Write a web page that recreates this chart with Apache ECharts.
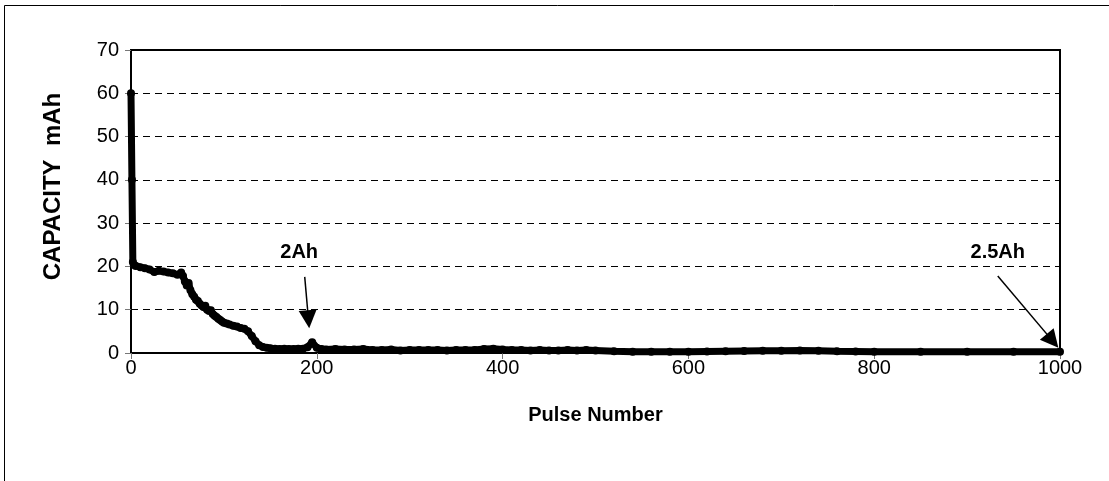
<!DOCTYPE html>
<html>
<head>
<meta charset="utf-8">
<script src="https://cdn.jsdelivr.net/npm/echarts@6/dist/echarts.min.js"></script>
<style>
html,body{margin:0;padding:0;background:#fff;}
#chart{width:1109px;height:481px;}
</style>
</head>
<body>
<div id="chart"></div>
<script>
// ---- data ----
const pulseNumber = [0,1,2,3,5,10,15,20,25,30,35,40,45,50,54,56,58,60,62,64,66,68,70,72,74,76,78,80,82,84,86,88,90,92,94,96,98,100,103,106,110,114,118,122,126,130,134,138,142,146,150,155,160,165,170,175,180,185,190,195,200,205,210,220,230,240,250,260,270,280,290,300,310,320,330,340,350,360,370,380,390,400,410,420,430,440,450,460,470,480,490,500,520,540,560,580,600,620,640,660,680,700,720,740,760,780,800,850,900,950,1000];
const capacity = [60,40,21,20.4,20.1,19.8,19.6,19.3,18.7,19.0,18.8,18.6,18.4,18.1,18.6,17.8,16.5,15.6,16.2,14.5,13.6,13.0,12.3,12.0,11.4,11.0,10.6,10.9,10.0,9.7,9.9,9.0,8.6,8.3,7.9,7.6,7.3,7.0,6.8,6.6,6.3,6.1,5.8,5.6,5.0,3.9,2.7,1.8,1.4,1.2,1.1,1.0,0.9,1.0,0.9,0.9,1.0,1.0,1.3,2.5,1.2,0.9,0.8,0.9,0.8,0.8,0.9,0.7,0.7,0.8,0.6,0.7,0.7,0.7,0.7,0.6,0.7,0.7,0.7,0.9,1.0,0.8,0.7,0.7,0.6,0.7,0.6,0.6,0.7,0.6,0.7,0.6,0.4,0.3,0.3,0.3,0.3,0.35,0.4,0.45,0.5,0.5,0.55,0.5,0.4,0.35,0.3,0.3,0.3,0.3,0.3];
const xTicks = [0,200,400,600,800,1000];
const yTicks = [0,10,20,30,40,50,60,70];
const annotationLabels = ['2Ah','2.5Ah'];
const annotationTextAt = [[181,23.2],[933,23.2]];
const arrowFrom = [[187,17.6],[933,17.8]];
const arrowTo = [[191,7.8],[992,2.8]];

const seriesData = pulseNumber.map((p,i)=>[p,capacity[i]]);
const FONT = 'Liberation Sans, Arial, sans-serif';

const chart = echarts.init(document.getElementById('chart'), null, {renderer:'canvas'});
chart.setOption({
  animation:false,
  backgroundColor:'#fff',
  graphic:[{
    type:'rect',
    shape:{x:4.5,y:5.5,width:1120,height:500},
    style:{fill:'none',stroke:'#000',lineWidth:1},
    silent:true
  }],
  grid:{left:131,right:49,top:50,bottom:128,show:true,borderColor:'#000',borderWidth:2,backgroundColor:'transparent'},
  xAxis:{
    type:'value',min:xTicks[0],max:xTicks[xTicks.length-1],interval:200,
    name:'Pulse Number',nameLocation:'middle',nameGap:52,
    nameTextStyle:{fontFamily:FONT,fontSize:20,fontWeight:'bold',color:'#000'},
    axisLine:{show:true,onZero:false,lineStyle:{color:'#000',width:2}},
    axisTick:{show:true,inside:false,length:6,lineStyle:{color:'#777',width:1}},
    axisLabel:{fontFamily:FONT,fontSize:20,color:'#000',margin:5,formatter:v=>String(v)},
    splitLine:{show:false}
  },
  yAxis:{
    type:'value',min:yTicks[0],max:yTicks[yTicks.length-1],interval:10,
    name:'CAPACITY  mAh',nameLocation:'middle',nameGap:66,nameRotate:90,
    nameTextStyle:{fontFamily:FONT,fontSize:24,fontWeight:'bold',color:'#000',padding:[0,0,0,30]},
    axisLine:{show:true,lineStyle:{color:'#000',width:2}},
    axisTick:{show:true,inside:false,length:6,lineStyle:{color:'#777',width:1}},
    axisLabel:{fontFamily:FONT,fontSize:20,color:'#000',margin:12},
    splitLine:{show:true,lineStyle:{color:'#000',width:1,type:[7,5]}}
  },
  series:[{
    type:'line',
    data:seriesData,
    symbol:'circle',symbolSize:8,showAllSymbol:true,
    lineStyle:{color:'#000',width:7},
    itemStyle:{color:'#000'},
    silent:true,
    markPoint:{
      symbol:'circle',symbolSize:0,silent:true,
      label:{show:true,formatter:p=>p.name,fontFamily:FONT,fontSize:20,fontWeight:'bold',color:'#000',position:'inside'},
      data:annotationLabels.map((t,i)=>({name:t,coord:annotationTextAt[i]}))
    },
    markLine:{
      silent:true,symbol:['none','triangle'],symbolSize:18,
      label:{show:false},
      lineStyle:{color:'#000',width:1.5,type:'solid'},
      itemStyle:{color:'#000'},
      emphasis:{disabled:true},
      data:arrowFrom.map((f,i)=>[{coord:f},{coord:arrowTo[i]}])
    }
  }]
});
</script>
</body>
</html>
